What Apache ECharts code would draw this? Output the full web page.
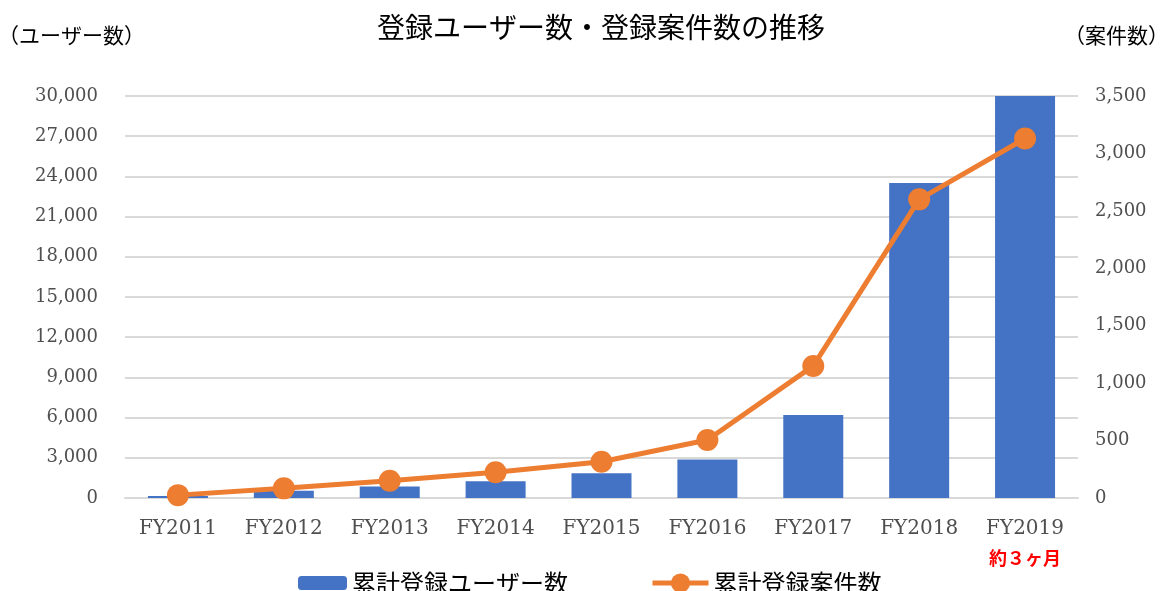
<!DOCTYPE html>
<html>
<head>
<meta charset="utf-8">
<script src="https://cdn.jsdelivr.net/npm/echarts@6/dist/echarts.min.js"></script>
<style>
html,body{margin:0;padding:0;background:#fff;}
#chart{width:1163px;height:591px;}
</style>
</head>
<body>
<div id="chart"></div>
<script>
const categories = ['FY2011','FY2012','FY2013','FY2014','FY2015','FY2016','FY2017','FY2018','FY2019'];
const userCounts = [150, 550, 850, 1250, 1840, 2880, 6200, 23500, 30000];
const projectCounts = [25, 84, 151, 224, 316, 505, 1150, 2600, 3130];
const leftTicks = {min: 0, max: 30000, interval: 3000};
const rightTicks = {min: 0, max: 3500, interval: 500};
const noteLabel = '約３ヶ月';
const noteCategory = 'FY2019';

const serif = '"DejaVu Serif", "Liberation Serif", serif';
const cjk = '"Noto Sans CJK JP", "Noto Sans", sans-serif';

const chart = echarts.init(document.getElementById('chart'), null, {renderer: 'canvas'});
chart.setOption({
  backgroundColor: '#ffffff',
  animation: false,
  title: {
    text: '登録ユーザー数・登録案件数の推移',
    left: 372,
    top: 8,
    textStyle: {fontFamily: cjk, fontSize: 28, fontWeight: 'normal', color: '#000000'}
  },
  graphic: [
    {type: 'text', left: -2, top: 25, style: {text: '（ユーザー数）', font: '21px ' + cjk, fill: '#000000'}},
    {type: 'text', right: -6, top: 25, style: {text: '（案件数）', font: '21px ' + cjk, fill: '#000000'}}
  ],
  grid: {left: 125, right: 85, top: 96, bottom: 93, containLabel: false},
  legend: [
    {
      data: ['累計登録ユーザー数'], left: 293, top: 566,
      itemWidth: 49, itemHeight: 14,
      textStyle: {fontFamily: cjk, fontSize: 24, color: '#000000'}
    },
    {
      data: ['累計登録案件数'], left: 645, top: 566,
      itemWidth: 56, itemHeight: 24,
      lineStyle: {width: 5, color: '#ed7d31'},
      textStyle: {fontFamily: cjk, fontSize: 24, color: '#000000'}
    }
  ],
  xAxis: {
    type: 'category',
    data: categories,
    axisTick: {show: false},
    axisLine: {show: true, lineStyle: {color: '#d9d9d9', width: 2}},
    axisLabel: {
      margin: 20,
      interval: 0,
      formatter: function (v) {
        return v === noteCategory ? '{a|' + v + '}\n{r|' + noteLabel + '}' : '{a|' + v + '}';
      },
      rich: {
        a: {fontFamily: serif, fontSize: 20, color: '#4f4f4f', lineHeight: 22},
        r: {fontFamily: cjk, fontSize: 18, fontWeight: 'bold', color: '#ff0000', lineHeight: 36}
      }
    }
  },
  yAxis: [
    {
      type: 'value', min: leftTicks.min, max: leftTicks.max, interval: leftTicks.interval,
      axisLine: {show: false}, axisTick: {show: false},
      splitLine: {lineStyle: {color: '#d9d9d9', width: 2}},
      axisLabel: {
        margin: 27, fontFamily: serif, fontSize: 18, color: '#4f4f4f',
        formatter: v => v.toLocaleString('en-US')
      }
    },
    {
      type: 'value', min: rightTicks.min, max: rightTicks.max, interval: rightTicks.interval,
      axisLine: {show: false}, axisTick: {show: false},
      splitLine: {show: false},
      axisLabel: {
        margin: 17, fontFamily: serif, fontSize: 18, color: '#4f4f4f',
        formatter: v => v.toLocaleString('en-US')
      }
    }
  ],
  series: [
    {
      name: '累計登録ユーザー数',
      type: 'bar',
      yAxisIndex: 0,
      data: userCounts,
      barWidth: 60,
      itemStyle: {color: '#4472c4'}
    },
    {
      name: '累計登録案件数',
      type: 'line',
      yAxisIndex: 1,
      data: projectCounts,
      symbol: 'circle',
      symbolSize: 22,
      lineStyle: {color: '#ed7d31', width: 5},
      itemStyle: {color: '#ed7d31'}
    }
  ]
});
</script>
</body>
</html>
